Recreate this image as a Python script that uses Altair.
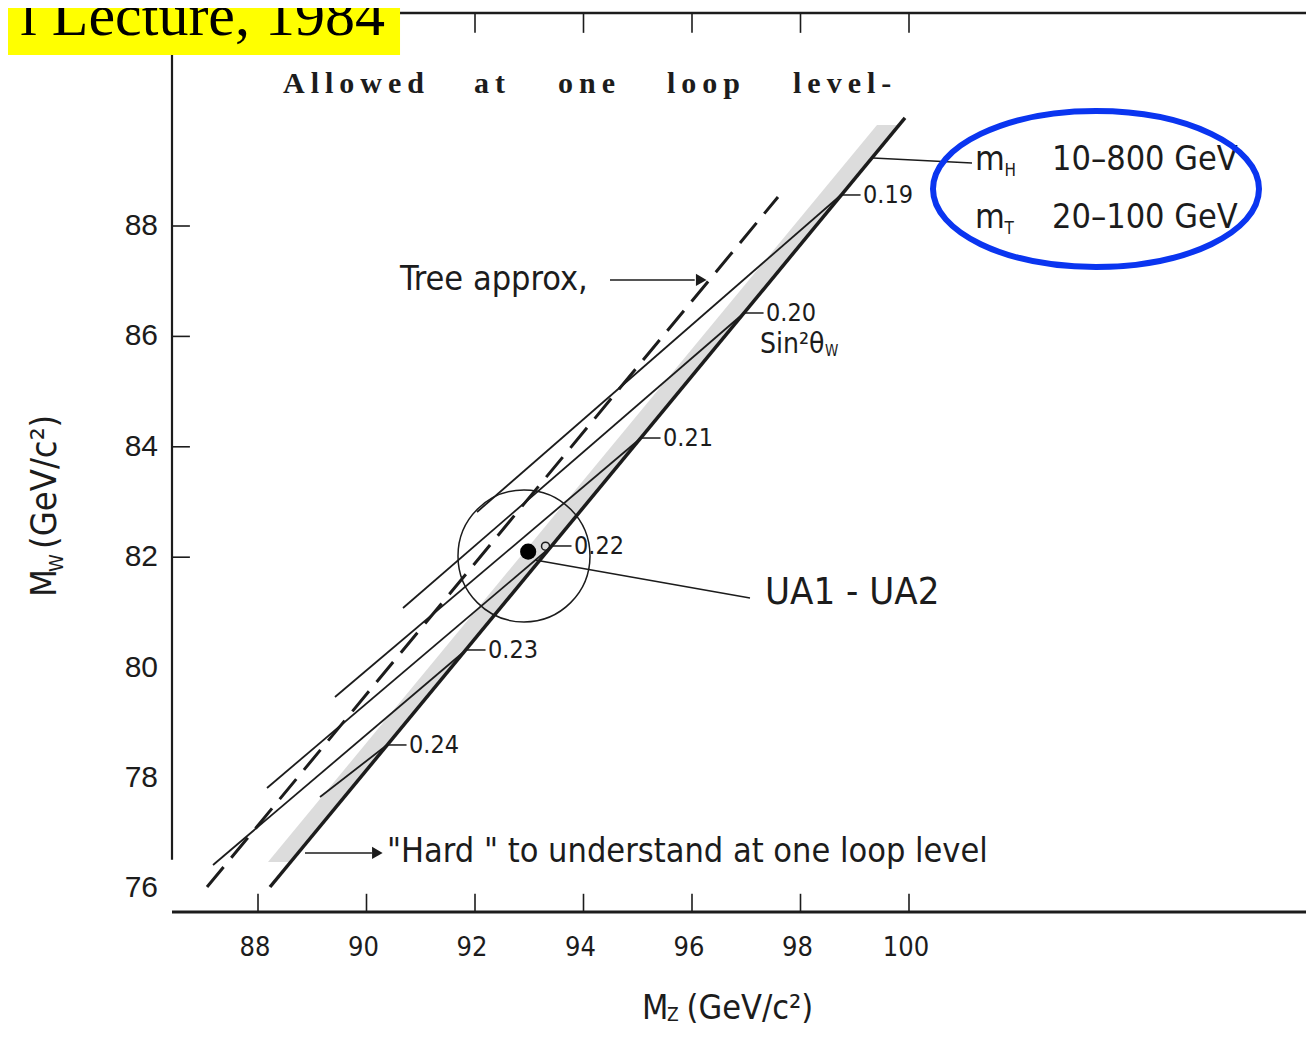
import altair as alt
import pandas as pd

# ---------------- data ----------------
X_MIN, X_MAX = 86.4147, 107.318
Y_MIN, Y_MAX = 75.572, 91.877

x_tick_values = [88, 90, 92, 94, 96, 98, 100]
y_tick_values = [76, 78, 80, 82, 84, 86, 88]
y_tick_marks = [82, 84, 86, 88]
top_tick_marks = [92, 94, 96, 98, 100]

boundary_mz = [88.221, 99.926]
boundary_mw = [76.025, 89.957]
tree_mz = [87.060, 97.585]
tree_mw = [76.025, 88.525]
band_mw = [76.478, 89.830]
band_left_mz = [88.184, 99.410]
band_right_mz = [88.601, 99.819]

sin2_labels = ["0.19", "0.20", "0.21", "0.22", "0.23", "0.24"]
sin2_start_mz = [98.747, 96.959, 95.060, 93.419, 91.834, 90.378]
sin2_start_mw = [88.562, 86.424, 84.159, 82.203, 80.319, 78.598]
sin2_end_mz = [92.037, 90.673, 89.419, 88.166, 87.171, 89.143]
sin2_end_mw = [82.819, 81.080, 79.467, 77.819, 76.424, 77.656]

ua_point = (92.98, 82.10)
ua_small = (93.30, 82.20)
ua_circle = (92.903, 82.022)
ua_leader_mz = [93.106, 97.069]
ua_leader_mw = [81.949, 81.261]
mh_leader_mz = [99.336, 101.161]
mh_leader_mw = [89.232, 89.141]
ellipse_center = (103.447, 88.670)

allowed_words = ["Allowed", "at", "one", "loop", "level-"]
allowed_mz = [88.461, 91.982, 93.530, 95.539, 97.862]
allowed_mw = 90.572

SANS = "DejaVu Sans Condensed, Liberation Sans Narrow, DejaVu Sans"
SERIF = "Liberation Serif"
INK = "#1c1c1c"

xs = alt.Scale(domain=[X_MIN, X_MAX], nice=False, zero=False)
ys = alt.Scale(domain=[Y_MIN, Y_MAX], nice=False, zero=False)


def X(f):
    return alt.X(f, type="quantitative", scale=xs, axis=None)


def Y(f):
    return alt.Y(f, type="quantitative", scale=ys, axis=None)


# ---------------- tick labels ----------------
xlab_df = pd.DataFrame({"v": x_tick_values, "y": [Y_MIN] * len(x_tick_values),
                        "t": [str(v) for v in x_tick_values]})
xlabels = alt.Chart(xlab_df).mark_text(baseline="middle", align="center", dy=36, dx=-3, font=SANS,
                                       fontSize=27, color=INK).encode(x=X("v"), y=Y("y"), text="t:N")
ylab_df = pd.DataFrame({"v": y_tick_values, "x": [X_MIN] * len(y_tick_values),
                        "t": [str(v) for v in y_tick_values]})
ylabels = alt.Chart(ylab_df).mark_text(baseline="middle", align="right", dx=-14,
                                       font="Liberation Sans", fontSize=30, color=INK).encode(
    x=X("x"), y=Y("v"), text="t:N")

# ---------------- grey band ----------------
band_df = pd.DataFrame({"mw": band_mw, "left": band_left_mz, "right": band_right_mz})
band = alt.Chart(band_df).mark_area(orient="horizontal", color="#dcdcdc").encode(
    y=Y("mw"), x=X("left"), x2="right")

# ---------------- sin^2 lines ----------------
rows = []
for lab, a, b, c, d in zip(sin2_labels, sin2_start_mz, sin2_start_mw, sin2_end_mz, sin2_end_mw):
    rows.append({"label": lab, "mz": a, "mw": b, "o": 0})
    rows.append({"label": lab, "mz": c, "mw": d, "o": 1})
sin2_lines = alt.Chart(pd.DataFrame(rows)).mark_line(color=INK, strokeWidth=1.8).encode(
    x=X("mz"), y=Y("mw"), detail="label:N", order="o:Q")

tree = alt.Chart(pd.DataFrame({"mz": tree_mz, "mw": tree_mw})).mark_line(
    color=INK, strokeWidth=3, strokeDash=[26, 12]).encode(x=X("mz"), y=Y("mw"))

boundary = alt.Chart(pd.DataFrame({"mz": boundary_mz, "mw": boundary_mw})).mark_line(
    color=INK, strokeWidth=3.5).encode(x=X("mz"), y=Y("mw"))

# ---------------- sin^2 labels ----------------
lab_df = pd.DataFrame({"label": sin2_labels, "mz": sin2_start_mz, "mw": sin2_start_mw})
lab_rules = alt.Chart(lab_df).transform_calculate(mz2="datum.mz + 0.36").mark_rule(
    color=INK, strokeWidth=1.5).encode(x=X("mz"), x2="mz2:Q", y=Y("mw"))
lab_text = alt.Chart(lab_df).mark_text(align="left", baseline="middle", dx=22, font=SANS,
                                       fontSize=25, color=INK).encode(
    x=X("mz"), y=Y("mw"), text="label:N")

# ---------------- UA1-UA2 ----------------
circle = alt.Chart(pd.DataFrame({"mz": [ua_circle[0]], "mw": [ua_circle[1]]})).mark_point(
    shape="circle", size=17424, filled=False, color=INK, strokeWidth=1.5, opacity=1).encode(
    x=X("mz"), y=Y("mw"))
ua_dot = alt.Chart(pd.DataFrame({"mz": [ua_point[0]], "mw": [ua_point[1]]})).mark_point(
    shape="circle", size=260, filled=True, color="#000", opacity=1).encode(x=X("mz"), y=Y("mw"))
ua_small_c = alt.Chart(pd.DataFrame({"mz": [ua_small[0]], "mw": [ua_small[1]]})).mark_point(
    shape="circle", size=64, filled=False, color=INK, strokeWidth=1.5, opacity=1).encode(
    x=X("mz"), y=Y("mw"))
leaders = alt.Chart(pd.DataFrame({
    "mz": [ua_leader_mz[0], mh_leader_mz[0], 94.488, 88.866],
    "mz2": [ua_leader_mz[1], mh_leader_mz[1], 96.05, 90.10],
    "mw": [ua_leader_mw[0], mh_leader_mw[0], 87.022, 76.641],
    "mw2": [ua_leader_mw[1], mh_leader_mw[1], 87.022, 76.641],
})).mark_rule(color=INK, strokeWidth=1.6).encode(x=X("mz"), x2="mz2:Q", y=Y("mw"), y2="mw2:Q")
heads = alt.Chart(pd.DataFrame({"mz": [96.17, 90.20], "mw": [87.022, 76.641]})).mark_point(
    shape="triangle-right", size=150, filled=True, color=INK, opacity=1).encode(x=X("mz"), y=Y("mw"))

# ---------------- annotation texts ----------------
ann = pd.DataFrame([
    {"t": "Tree approx,", "mz": 90.618, "mw": 87.022, "fs": 34, "a": 0},
    {"t": "\"Hard \" to understand at one loop level", "mz": 90.378, "mw": 76.659, "fs": 34, "a": 0},
    {"t": "UA1 - UA2", "mz": 97.346, "mw": 81.351, "fs": 38, "a": 0},
    {"t": "m", "mz": 101.217, "mw": 89.196, "fs": 34, "a": 0},
    {"t": "H", "mz": 101.76, "mw": 88.99, "fs": 17, "a": 0},
    {"t": "10\u2013800  GeV", "mz": 102.636, "mw": 89.196, "fs": 34, "a": 0},
    {"t": "m", "mz": 101.217, "mw": 88.145, "fs": 34, "a": 0},
    {"t": "T", "mz": 101.76, "mw": 87.94, "fs": 17, "a": 0},
    {"t": "20\u2013100  GeV", "mz": 102.636, "mw": 88.145, "fs": 34, "a": 0},
    {"t": "Sin\u00b2\u03b8", "mz": 97.253, "mw": 85.844, "fs": 28, "a": 0},
    {"t": "W", "mz": 98.45, "mw": 85.73, "fs": 15, "a": 0},
    {"t": "M", "mz": 95.078, "mw": 73.815, "fs": 34, "a": 0},
    {"t": "Z", "mz": 95.54, "mw": 73.71, "fs": 19, "a": 0},
    {"t": "(GeV/c\u00b2)", "mz": 95.90, "mw": 73.815, "fs": 34, "a": 0},
    {"t": "M", "mz": 84.074, "mw": 81.279, "fs": 36, "a": 270},
    {"t": "W", "mz": 84.295, "mw": 81.732, "fs": 20, "a": 270},
    {"t": "(GeV/c\u00b2)", "mz": 84.074, "mw": 82.15, "fs": 36, "a": 270},
])
ann_text = alt.Chart(ann).mark_text(align="left", baseline="middle", font=SANS, color=INK).encode(
    x=X("mz"), y=Y("mw"), text="t:N", size=alt.Size("fs:Q", scale=None),
    angle=alt.Angle("a:Q", scale=None))

allowed_df = pd.DataFrame({"t": ["\u2009".join(w) for w in allowed_words], "mz": allowed_mz,
                           "mw": [allowed_mw] * len(allowed_words)})
allowed = alt.Chart(allowed_df).mark_text(align="left", baseline="middle", font=SERIF,
                                          fontWeight="bold", fontSize=30, color=INK).encode(
    x=X("mz"), y=Y("mw"), text="t:N")

# ---------------- frame and ticks ----------------
frame_df = pd.DataFrame({
    "x": [X_MIN, X_MIN, X_MIN], "x2": [X_MAX, X_MIN, X_MAX],
    "y": [Y_MIN, 76.52, 91.859], "y2": [Y_MIN, 91.10, 91.859],
    "w": [3.0, 2.2, 2.5],
})
frame = alt.Chart(frame_df).mark_rule(color=INK).encode(
    x=X("x"), x2="x2:Q", y=Y("y"), y2="y2:Q", strokeWidth=alt.StrokeWidth("w:Q", scale=None))

tick_rows = []
for v in x_tick_values:
    tick_rows.append({"x": v, "x2": v, "y": Y_MIN, "y2": Y_MIN + 0.33})
for v in top_tick_marks:
    tick_rows.append({"x": v, "x2": v, "y": 91.859, "y2": 91.859 - 0.36})
for v in y_tick_marks:
    tick_rows.append({"x": X_MIN, "x2": X_MIN + 0.33, "y": v, "y2": v})
ticks = alt.Chart(pd.DataFrame(tick_rows)).mark_rule(color=INK, strokeWidth=1.6).encode(
    x=X("x"), x2="x2:Q", y=Y("y"), y2="y2:Q")

# ---------------- title box ----------------
box = alt.Chart(pd.DataFrame({"x": [83.0], "x2": [90.618], "y": [91.098], "y2": [92.3]})).mark_rect(
    color="#ffff00").encode(x=X("x"), x2="x2:Q", y=Y("y"), y2="y2:Q")
title = alt.Chart(pd.DataFrame({"t": ["l Lecture, 1984"], "mz": [90.341], "mw": [91.46]})).mark_text(
    align="right", baseline="alphabetic", font=SERIF, fontSize=60, color="#000").encode(
    x=X("mz"), y=Y("mw"), text="t:N")

# ---------------- blue ellipse ----------------
ELLIPSE = ("M 1 0 C 1 0.2643 0.5523 0.4785 0 0.4785 C -0.5523 0.4785 -1 0.2643 -1 0 "
           "C -1 -0.2643 -0.5523 -0.4785 0 -0.4785 C 0.5523 -0.4785 1 -0.2643 1 0 Z")
ellipse = alt.Chart(pd.DataFrame({"mz": [ellipse_center[0]], "mw": [ellipse_center[1]]})).mark_point(
    shape=ELLIPSE, size=106276, filled=False, color="#0a35f0", strokeWidth=6, opacity=1).encode(
    x=X("mz"), y=Y("mw"))

chart = alt.layer(
    band, sin2_lines, tree, boundary, lab_rules, lab_text, circle, ua_dot, ua_small_c,
    leaders, heads, ann_text, allowed, frame, ticks, xlabels, ylabels, box, title, ellipse
).properties(
    width=1134, height=900,
    autosize=alt.AutoSizeParams(type="none"),
    padding={"left": 164, "top": 4, "right": 0, "bottom": 115},
    background="white",
).configure_view(strokeWidth=0)

chart.save("out.html", embed_options={"renderer": "svg", "actions": False})
